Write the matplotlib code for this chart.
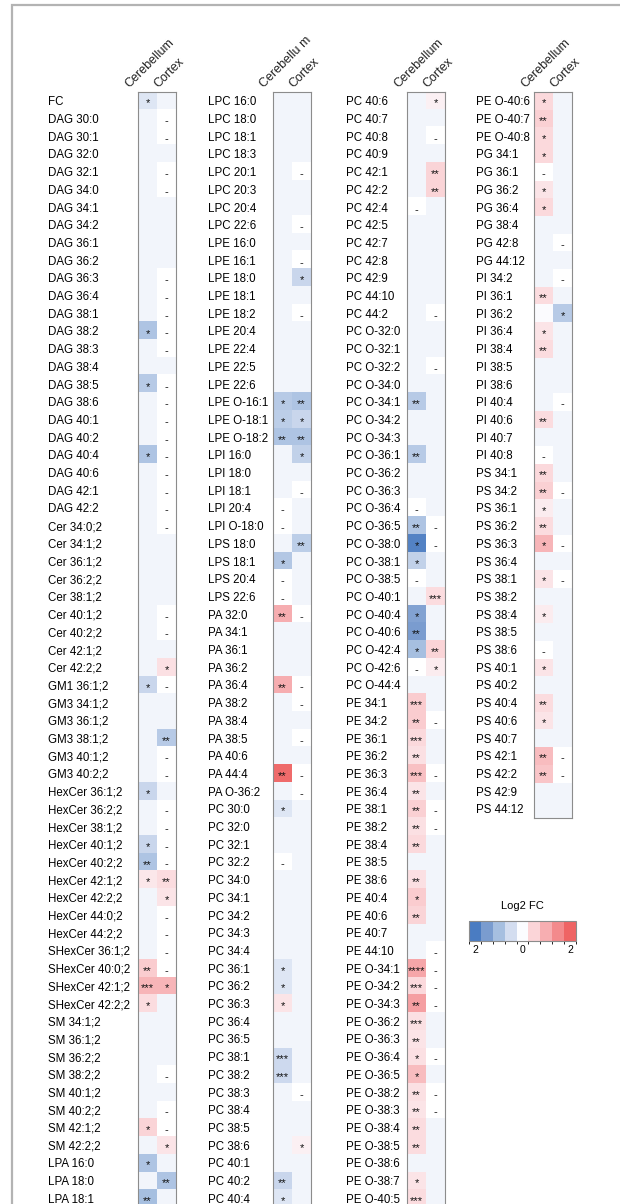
import numpy as np
import matplotlib.pyplot as plt
from matplotlib.colors import LinearSegmentedColormap, ListedColormap, BoundaryNorm
from matplotlib.cm import ScalarMappable
from matplotlib.patches import Rectangle

plt.rcParams["font.family"] = ["Liberation Sans", "DejaVu Sans"]

N = np.nan   # not detected -> white cell with "-"
b = -0.1     # not significant, near zero

# ---------------- panel 1 ----------------
labels1 = ["FC", "DAG 30:0", "DAG 30:1", "DAG 32:0", "DAG 32:1", "DAG 34:0", "DAG 34:1", "DAG 34:2",
           "DAG 36:1", "DAG 36:2", "DAG 36:3", "DAG 36:4", "DAG 38:1", "DAG 38:2", "DAG 38:3", "DAG 38:4",
           "DAG 38:5", "DAG 38:6", "DAG 40:1", "DAG 40:2", "DAG 40:4", "DAG 40:6", "DAG 42:1", "DAG 42:2",
           "Cer 34:0;2", "Cer 34:1;2", "Cer 36:1;2", "Cer 36:2;2", "Cer 38:1;2", "Cer 40:1;2", "Cer 40:2;2",
           "Cer 42:1;2", "Cer 42:2;2", "GM1 36:1;2", "GM3 34:1;2", "GM3 36:1;2", "GM3 38:1;2", "GM3 40:1;2",
           "GM3 40:2;2", "HexCer 36:1;2", "HexCer 36:2;2", "HexCer 38:1;2", "HexCer 40:1;2", "HexCer 40:2;2",
           "HexCer 42:1;2", "HexCer 42:2;2", "HexCer 44:0;2", "HexCer 44:2;2", "SHexCer 36:1;2",
           "SHexCer 40:0;2", "SHexCer 42:1;2", "SHexCer 42:2;2", "SM 34:1;2", "SM 36:1;2", "SM 36:2;2",
           "SM 38:2;2", "SM 40:1;2", "SM 40:2;2", "SM 42:1;2", "SM 42:2;2", "LPA 16:0", "LPA 18:0", "LPA 18:1"]
cb1 = ([-0.35]
       + [b, b, b, b, b, b, b, b, b, b, b, b]
       + [-0.9, b, b, -0.8, b, b, b, -0.9, b, b, b]
       + [b, b, b, b, b, b, b, b, b]
       + [-0.6, b, b, b, b, b]
       + [-0.6, b, b, -0.6, -0.9, 0.25, b, b, b]
       + [b, 0.6, 0.9, 0.4]
       + [b, b, b, b, b, b, 0.5, b]
       + [-0.9, b, -1.0])
cbs1 = (["*"]
        + [""] * 12
        + ["*", "", "", "*", "", "", "", "*", "", "", ""]
        + [""] * 9
        + ["*", "", "", "", "", ""]
        + ["*", "", "", "*", "**", "*", "", "", ""]
        + ["", "**", "***", "*"]
        + ["", "", "", "", "", "", "*", ""]
        + ["*", "", "**"])
cx1 = ([b]
       + [N, N, b, N, N, b, b, b, b, N, N, N]
       + [N, N, b, N, N, N, N, N, N, N, N]
       + [N, b, b, b, b, N, N, b, 0.35]
       + [N, b, b, -0.8, N, N]
       + [b, N, N, N, N, 0.4, 0.3, N, N]
       + [N, N, 0.9, b]
       + [b, b, b, N, b, N, N, 0.3]
       + [b, -0.9, b])
cxs1 = ([""]
        + [""] * 12
        + [""] * 11
        + ["", "", "", "", "", "", "", "", "*"]
        + ["", "", "", "**", "", ""]
        + ["", "", "", "", "", "**", "*", "", ""]
        + ["", "", "*", ""]
        + ["", "", "", "", "", "", "", "*"]
        + ["", "**", ""])

# ---------------- panel 2 ----------------
labels2 = ["LPC 16:0", "LPC 18:0", "LPC 18:1", "LPC 18:3", "LPC 20:1", "LPC 20:3", "LPC 20:4", "LPC 22:6",
           "LPE 16:0", "LPE 16:1", "LPE 18:0", "LPE 18:1", "LPE 18:2", "LPE 20:4", "LPE 22:4", "LPE 22:5",
           "LPE 22:6", "LPE O-16:1", "LPE O-18:1", "LPE O-18:2", "LPI 16:0", "LPI 18:0", "LPI 18:1",
           "LPI 20:4", "LPI O-18:0", "LPS 18:0", "LPS 18:1", "LPS 20:4", "LPS 22:6", "PA 32:0", "PA 34:1",
           "PA 36:1", "PA 36:2", "PA 36:4", "PA 38:2", "PA 38:4", "PA 38:5", "PA 40:6", "PA 44:4",
           "PA O-36:2", "PC 30:0", "PC 32:0", "PC 32:1", "PC 32:2", "PC 34:0", "PC 34:1", "PC 34:2",
           "PC 34:3", "PC 34:4", "PC 36:1", "PC 36:2", "PC 36:3", "PC 36:4", "PC 36:5", "PC 38:1",
           "PC 38:2", "PC 38:3", "PC 38:4", "PC 38:5", "PC 38:6", "PC 40:1", "PC 40:2", "PC 40:4"]
cb2 = ([b] * 8
       + [b] * 9 + [-0.8, -0.75, -0.9]
       + [b, b, b, N, N]
       + [b, -0.85, N, N]
       + [1.0, b, b, b, 1.0, b, b, b, b, 1.9, b]
       + [-0.35, b, b, N, b, b, b, b, b, -0.35, -0.35, 0.3, b, b, -0.55, -0.55, b, b, b, b, b, -0.6, -0.35])
cbs2 = ([""] * 17 + ["*", "*", "**"]
        + [""] * 5
        + ["", "*", "", ""]
        + ["**", "", "", "", "**", "", "", "", "", "**", ""]
        + ["*", "", "", "", "", "", "", "", "", "*", "*", "*", "", "", "***", "***", "", "", "", "", "", "**", "*"])
cx2 = ([b, b, b, b, N, b, b, N]
       + [b, N, -0.6, b, N, b, b, b, b, -0.9, -0.6, -0.9]
       + [-0.7, b, N, b, b]
       + [-0.75, b, b, b]
       + [N, b, b, b, N, N, b, N, b, N, N]
       + [b] * 16 + [N, b, b, 0.15, b, b, b])
cxs2 = ([""] * 8
        + ["", "", "*", "", "", "", "", "", "", "**", "*", "**"]
        + ["*", "", "", "", ""]
        + ["**", "", "", ""]
        + [""] * 11
        + [""] * 19 + ["*"] + [""] * 3)

# ---------------- panel 3 ----------------
labels3 = ["PC 40:6", "PC 40:7", "PC 40:8", "PC 40:9", "PC 42:1", "PC 42:2", "PC 42:4", "PC 42:5", "PC 42:7",
           "PC 42:8", "PC 42:9", "PC 44:10", "PC 44:2", "PC O-32:0", "PC O-32:1", "PC O-32:2", "PC O-34:0",
           "PC O-34:1", "PC O-34:2", "PC O-34:3", "PC O-36:1", "PC O-36:2", "PC O-36:3", "PC O-36:4",
           "PC O-36:5", "PC O-38:0", "PC O-38:1", "PC O-38:5", "PC O-40:1", "PC O-40:4", "PC O-40:6",
           "PC O-42:4", "PC O-42:6", "PC O-44:4", "PE 34:1", "PE 34:2", "PE 36:1", "PE 36:2", "PE 36:3",
           "PE 36:4", "PE 38:1", "PE 38:2", "PE 38:4", "PE 38:5", "PE 38:6", "PE 40:4", "PE 40:6", "PE 40:7",
           "PE 44:10", "PE O-34:1", "PE O-34:2", "PE O-34:3", "PE O-36:2", "PE O-36:3", "PE O-36:4",
           "PE O-36:5", "PE O-38:2", "PE O-38:3", "PE O-38:4", "PE O-38:5", "PE O-38:6", "PE O-38:7", "PE O-40:5"]
cb3 = ([b, b, b, b, b, b, N, b, b, b, b, b, b]
       + [b, b, b, b, -0.8, b, b, -0.8, b, b, N, -0.9, -1.9, -0.7, N, b, -1.4, -1.5, -1.0, N, b]
       + [0.6, 0.6, 0.45, 0.35, 0.75, 0.3, 0.55, 0.35, 0.45, b, 0.35, 0.6, 0.5, b, b]
       + [1.1, 0.45, 1.2, 0.35, 0.3, 0.35, 0.8, 0.35, 0.3, 0.4, 0.4, b, 0.3, 0.4])
cbs3 = ([""] * 13
        + ["", "", "", "", "**", "", "", "**", "", "", "", "**", "*", "*", "", "", "*", "**", "*", "", ""]
        + ["***", "**", "***", "**", "***", "**", "**", "**", "**", "", "**", "*", "**", "", ""]
        + ["****", "***", "**", "***", "**", "*", "*", "**", "**", "**", "**", "", "*", "***"])
cx3 = ([0.15, b, N, b, 0.5, 0.5, b, b, b, b, b, b, N]
       + [b, b, N, b, b, b, b, b, b, b, b, N, N, b, b, 0.4, b, b, 0.5, 0.2, b]
       + [b, N, b, b, N, b, N, N, b, b, b, b, b, b, N]
       + [N, N, N, b, b, N, b, N, N, b, b, b, b, b])
cxs3 = (["*", "", "", "", "**", "**", "", "", "", "", "", "", ""]
        + [""] * 15 + ["***", "", "", "**", "*", ""]
        + [""] * 15
        + [""] * 14)

# ---------------- panel 4 ----------------
labels4 = ["PE O-40:6", "PE O-40:7", "PE O-40:8", "PG 34:1", "PG 36:1", "PG 36:2", "PG 36:4", "PG 38:4",
           "PG 42:8", "PG 44:12", "PI 34:2", "PI 36:1", "PI 36:2", "PI 36:4", "PI 38:4", "PI 38:5", "PI 38:6",
           "PI 40:4", "PI 40:6", "PI 40:7", "PI 40:8", "PS 34:1", "PS 34:2", "PS 36:1", "PS 36:2", "PS 36:3",
           "PS 36:4", "PS 38:1", "PS 38:2", "PS 38:4", "PS 38:5", "PS 38:6", "PS 40:1", "PS 40:2", "PS 40:4",
           "PS 40:6", "PS 40:7", "PS 42:1", "PS 42:2", "PS 42:9", "PS 44:12"]
cb4 = ([0.45, 0.55, 0.45]
       + [0.45, N, 0.3, 0.45, b, b, b]
       + [b, 0.4, 0.0, 0.3, 0.4, b, b, b, 0.4, b, N]
       + [0.45, 0.55, 0.2, 0.4, 0.9, b, 0.3, b, 0.2, b, N, 0.3, b, 0.4, 0.3, b, 0.8, 0.7, b, b])
cbs4 = (["*", "**", "*"]
        + ["*", "", "*", "*", "", "", ""]
        + ["", "**", "", "*", "**", "", "", "", "**", "", ""]
        + ["**", "**", "*", "**", "*", "", "*", "", "*", "", "", "*", "", "**", "*", "", "**", "**", "", ""])
cx4 = ([b, b, b]
       + [b, b, b, b, b, N, b]
       + [N, b, -0.8, b, b, b, b, N, b, b, b]
       + [b, N, b, b, N, b, N, b, b, b, b, b, b, b, b, b, N, N, b, b])
cxs4 = ([""] * 10
        + ["", "", "*"] + [""] * 8
        + [""] * 20)

legend_colors = ["#4a7cc2", "#7a9ccf", "#a6bfe0", "#d3ddf0", "#fbfcff",
                 "#fbd5d8", "#f7aeb1", "#f38a8c", "#ef6464"]

W, H = 620, 1204
ROW = 17.7
TOP = 92
CELLW = 38

cmap = LinearSegmentedColormap.from_list("fc", legend_colors)
cmap.set_bad("white")

fig = plt.figure(figsize=(W / 100, H / 100), dpi=100)

# outer frame of the figure
fig.patches.append(Rectangle((12 / W, -0.05), 1.0, 1 - 5 / H + 0.05, transform=fig.transFigure,
                             fill=False, edgecolor="#b3b3b3", linewidth=1.6))

panels = [
    (labels1, cb1, cx1, cbs1, cxs1, 48, 138, "Cerebellum"),
    (labels2, cb2, cx2, cbs2, cxs2, 208, 273, "Cerebellu m"),
    (labels3, cb3, cx3, cbs3, cxs3, 346, 407, "Cerebellum"),
    (labels4, cb4, cx4, cbs4, cxs4, 476, 534, "Cerebellum"),
]

for labels, cb, cx, cbs, cxs, lx, hx, head in panels:
    n = len(labels)
    ax = fig.add_axes([hx / W, 1 - (TOP + n * ROW) / H, CELLW / W, n * ROW / H])
    data = np.column_stack([cb, cx])
    ax.imshow(np.ma.masked_invalid(data), cmap=cmap, vmin=-2, vmax=2,
              aspect="auto", interpolation="nearest")
    for i in range(n):
        for j, (vals, sig) in enumerate(((cb, cbs), (cx, cxs))):
            t = "-" if np.isnan(vals[i]) else sig[i]
            if t:
                ax.text(j, i + 0.15, t, ha="center", va="center", fontsize=8, color="#111111")
    ax.set_xticks([])
    ax.set_yticks(range(n))
    ax.set_yticklabels(labels, ha="left", fontsize=8.3)
    ax.tick_params(axis="y", length=0, pad=(hx - lx) * 0.72)
    for s in ax.spines.values():
        s.set_color("#8c8c8c")
        s.set_linewidth(0.8)
    for x0, name in [(-0.85, head), (0.7, "Cortex")]:
        ax.text(x0, -0.6, name, rotation=45, rotation_mode="anchor",
                ha="left", va="bottom", fontsize=9, color="#222222")

# legend colour bar
cax = fig.add_axes([469 / W, 1 - 941 / H, 107 / W, 20 / H])
norm = BoundaryNorm(np.linspace(-2, 2, 10), 9)
cbar = fig.colorbar(ScalarMappable(norm=norm, cmap=ListedColormap(legend_colors)), cax=cax,
                    orientation="horizontal", ticks=[-1.78, 0, 1.78])
cbar.ax.set_xticklabels(["2", "0", "2"], fontsize=7.5)
cbar.ax.tick_params(length=0, pad=3)
cbar.outline.set_edgecolor("#8c8c8c")
cbar.outline.set_linewidth(0.8)
fig.text(522 / W, 1 - 906 / H, "Log2 FC", ha="center", va="center", fontsize=8)

fig.savefig("out.png", dpi=100)
